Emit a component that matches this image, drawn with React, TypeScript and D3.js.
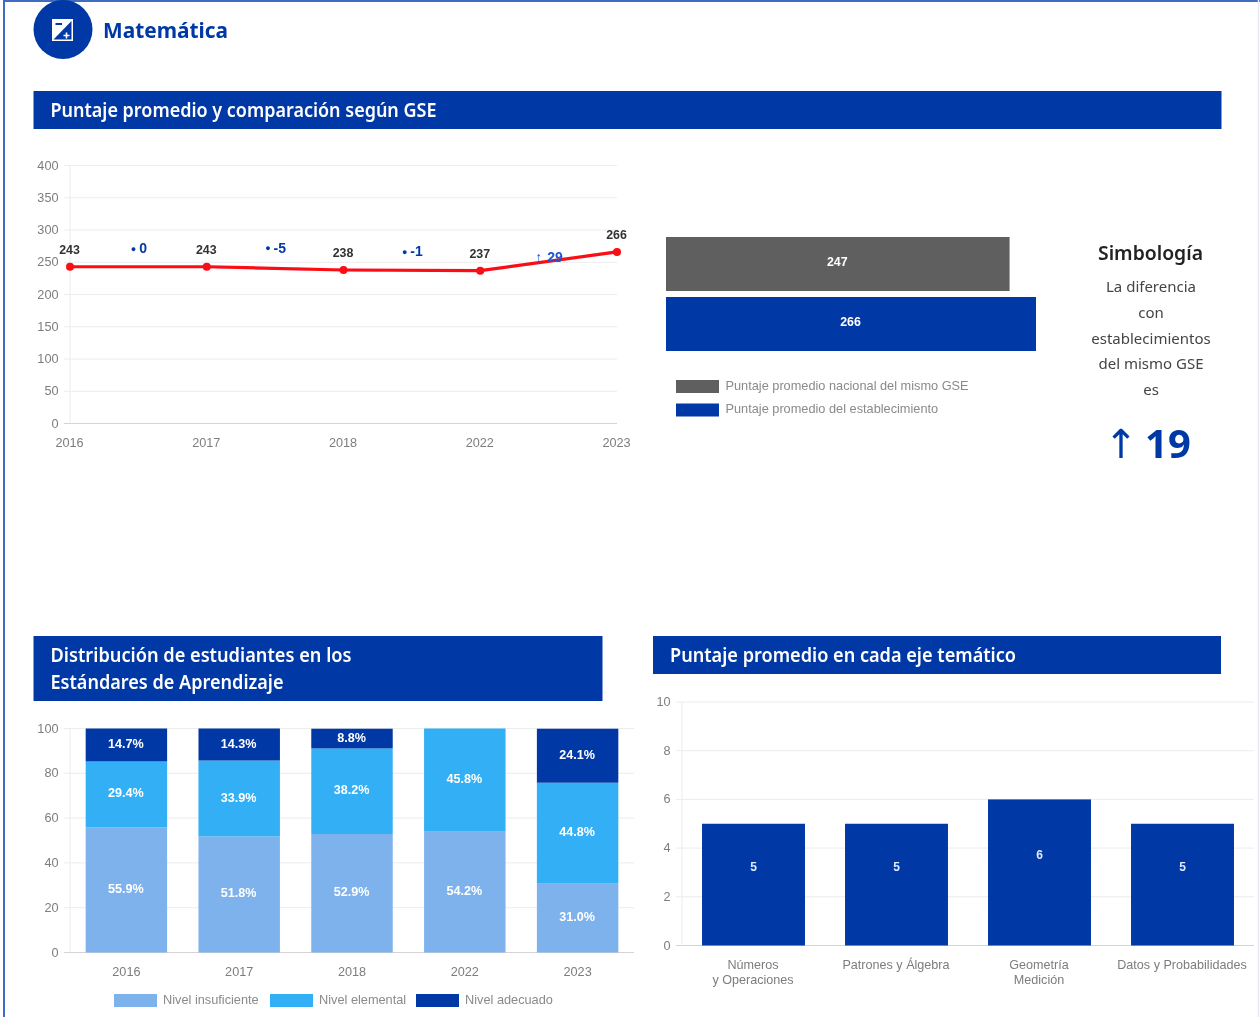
import React from "react";
import * as d3 from "d3";

const years = ["2016", "2017", "2018", "2022", "2023"];
const lineValues = [243, 243, 238, 237, 266];
const deltaMarks = ["●", "●", "●", "↑"];
const deltaValues = ["0", "-5", "-1", "29"];
const lineTicks = [0, 50, 100, 150, 200, 250, 300, 350, 400];

const compareLabels = ["Puntaje promedio nacional del mismo GSE", "Puntaje promedio del establecimiento"];
const compareValues = [247, 266];

const levels = ["Nivel insuficiente", "Nivel elemental", "Nivel adecuado"];
const insuficiente = [55.9, 51.8, 52.9, 54.2, 31.0];
const elemental = [29.4, 33.9, 38.2, 45.8, 44.8];
const adecuado = [14.7, 14.3, 8.8, 0, 24.1];
const stackTicks = [0, 20, 40, 60, 80, 100];

const ejes = [["Números", "y Operaciones"], ["Patrones y Álgebra"], ["Geometría", "Medición"], ["Datos y Probabilidades"]];
const ejeValues = [5, 5, 6, 5];
const ejeTicks = [0, 2, 4, 6, 8, 10];

const symbolLines = ["La diferencia", "con", "establecimientos", "del mismo GSE", "es"];

const BLUE = "#0339a5";
const SKY = "#31aff5";
const LIGHT = "#7eb2ec";
const GREY = "#5f5f5f";
const GRID = "#ececec";
const AXIS = "#7d7d7d";
const head = "'Noto Sans', sans-serif";
const body = "'Liberation Sans', Arial, sans-serif";
const FS = 12.7;

function Banner({ x, y, w, h, lines, widths }: any) {
  return (
    <g>
      <rect x={x} y={y} width={w} height={h} fill={BLUE} />
      {lines.map((t: string, i: number) => (
        <text key={t} x={x + 17} y={y + 26 + i * 27} fontFamily={head} fontWeight={600} fontSize={19} fill="#fff"
          textLength={widths[i]} lengthAdjust="spacingAndGlyphs">{t}</text>
      ))}
    </g>
  );
}

function YGrid({ scale, ticks, x0, x1 }: any) {
  return (
    <g>
      {ticks.map((t: number) => (
        <g key={t}>
          <line x1={x0 - 6} x2={x1} y1={scale(t)} y2={scale(t)} stroke={t === 0 ? "#d4d4d4" : GRID} />
          <text x={x0 - 11.5} y={scale(t) + 4} textAnchor="end" fontFamily={body} fontSize={FS} fill={AXIS}>{t}</text>
        </g>
      ))}
      <line x1={x0} x2={x0} y1={scale(ticks[ticks.length - 1])} y2={scale(0)} stroke={GRID} />
    </g>
  );
}

function LineChart() {
  const x = d3.scalePoint<string>().domain(years).range([70, 617]);
  const y = d3.scaleLinear().domain([0, 400]).range([423.5, 165.5]);
  const path = d3.line<number>().x((_, i) => x(years[i])!).y((d) => y(d))(lineValues)!;
  return (
    <g>
      <YGrid scale={y} ticks={lineTicks} x0={70} x1={617} />
      {years.map((c) => (
        <text key={c} x={x(c)! - 0.5} y={447} textAnchor="middle" fontFamily={body} fontSize={FS} fill={AXIS}>{c}</text>
      ))}
      <path d={path} fill="none" stroke="#fb0a12" strokeWidth={3.2} />
      {lineValues.map((v, i) => (
        <g key={i}>
          <circle cx={x(years[i])} cy={y(v)} r={4} fill="#fb0a12" />
          <text x={x(years[i])! - 0.5} y={y(v) - 13} textAnchor="middle" fontFamily={body} fontSize={12.4} fontWeight={700} fill="#333">{v}</text>
        </g>
      ))}
      {deltaValues.map((t, i) => {
        const xm = (x(years[i])! + x(years[i + 1])!) / 2;
        const ym = [253, 252.5, 256, 262][i];
        const col = i === 3 ? "#1a56d6" : BLUE;
        return (
          <text key={t} x={xm + 0.5} y={ym} textAnchor="middle" fontFamily={body} fontSize={14} fontWeight={700} fill={col}>
            <tspan fontSize={i === 3 ? 14 : 9} dy={i === 3 ? 0 : -1.5}>{deltaMarks[i]}</tspan>
            <tspan dy={i === 3 ? 0 : 1.5} dx={i === 3 ? 5 : 3}>{t}</tspan>
          </text>
        );
      })}
    </g>
  );
}

function CompareBars() {
  const x = d3.scaleLinear().domain([0, 266]).range([666, 1036]);
  const y = d3.scaleBand<number>().domain([0, 1]).range([234, 354]).paddingInner(0.1).paddingOuter(0.05);
  const colors = [GREY, BLUE];
  return (
    <g>
      {compareValues.map((v, i) => (
        <g key={i}>
          <rect x={x(0)} y={y(i)} width={x(v) - x(0)} height={y.bandwidth()} fill={colors[i]} />
          <text x={(x(0) + x(v)) / 2 - 0.5} y={y(i)! + y.bandwidth() / 2 + 2} textAnchor="middle" fontFamily={body} fontSize={12.4} fontWeight={700} fill="#fff">{v}</text>
        </g>
      ))}
      {compareLabels.map((t, i) => (
        <g key={t}>
          <rect x={676} y={380 + i * 23.5} width={43} height={13} fill={colors[i]} />
          <text x={725.5} y={389.5 + i * 23.2} fontFamily={body} fontSize={12.75} fill="#8a8a8a">{t}</text>
        </g>
      ))}
    </g>
  );
}

function Symbology() {
  return (
    <g textAnchor="middle" fontFamily={head}>
      <text x={1150.5} y={260} fontSize={20} fontWeight={600} fill="#222" textLength={105} lengthAdjust="spacingAndGlyphs">Simbología</text>
      {symbolLines.map((t, i) => (
        <text key={t} x={1151} y={292 + i * 25.8} fontSize={15} fill="#444">{t}</text>
      ))}
      <text x={1121} y={458} fontSize={40} fontFamily="'DejaVu Sans', sans-serif" fill={BLUE}>↑</text>
      <text x={1168} y={458} fontSize={40} fontWeight={700} fill={BLUE}>19</text>
    </g>
  );
}

function StackChart() {
  const x = d3.scaleBand<string>().domain(years).range([70, 634]).paddingInner(0.278).paddingOuter(0.139);
  const y = d3.scaleLinear().domain([0, 100]).range([952.5, 728.5]);
  const rows = years.map((c, i) => ({ c, a: insuficiente[i], b: elemental[i], d: adecuado[i] }));
  const series = d3.stack<any>().keys(["a", "b", "d"])(rows);
  const colors = [LIGHT, SKY, BLUE];
  const legendX = [114, 270, 416];
  return (
    <g>
      <YGrid scale={y} ticks={stackTicks} x0={70} x1={634} />
      {series.map((s, k) => (
        <g key={k}>
          {s.map((d: any) => {
            const val = d[1] - d[0];
            if (val <= 0) return null;
            return (
              <g key={d.data.c}>
                <rect x={x(d.data.c)} y={y(d[1])} width={x.bandwidth()} height={y(d[0]) - y(d[1])} fill={colors[k]} />
                <text x={x(d.data.c)! + x.bandwidth() / 2 - 0.5} y={(y(d[0]) + y(d[1])) / 2 + 3} textAnchor="middle" fontFamily={body} fontSize={12.6} fontWeight={700} fill="#fff">{val.toFixed(1)}%</text>
              </g>
            );
          })}
        </g>
      ))}
      {years.map((c) => (
        <text key={c} x={x(c)! + x.bandwidth() / 2} y={975.5} textAnchor="middle" fontFamily={body} fontSize={FS} fill={AXIS}>{c}</text>
      ))}
      {levels.map((t, i) => (
        <g key={t}>
          <rect x={legendX[i]} y={994} width={43} height={13} fill={colors[i]} />
          <text x={legendX[i] + 49} y={1003.5} fontFamily={body} fontSize={12.75} fill="#8a8a8a">{t}</text>
        </g>
      ))}
    </g>
  );
}

function EjeChart() {
  const cats = ejes.map((e) => e.join(" "));
  const x = d3.scaleBand<string>().domain(cats).range([682, 1254]).paddingInner(0.28).paddingOuter(0.14);
  const y = d3.scaleLinear().domain([0, 10]).range([945.5, 702]);
  return (
    <g>
      <YGrid scale={y} ticks={ejeTicks} x0={682} x1={1254} />
      {ejeValues.map((v, i) => (
        <g key={i}>
          <rect x={x(cats[i])} y={y(v)} width={x.bandwidth()} height={y(0) - y(v)} fill={BLUE} />
          <text x={x(cats[i])! + x.bandwidth() / 2} y={(y(1.45) + y(v)) / 2 + 4} textAnchor="middle" fontFamily={body} fontSize={12} fontWeight={700} fill="#dfe9ff">{v}</text>
          {ejes[i].map((l, j) => (
            <text key={l} x={x(cats[i])! + x.bandwidth() / 2 - 0.5} y={968.5 + j * 15} textAnchor="middle" fontFamily={body} fontSize={12.6} fill={AXIS}>{l}</text>
          ))}
        </g>
      ))}
    </g>
  );
}

export default function App() {
  return (
    <svg width={1260} height={1017} viewBox="0 0 1260 1017" style={{ position: "absolute", left: 0, top: 0, background: "#fff" }}>
      <defs>
        <filter id="soft" filterUnits="userSpaceOnUse" x="0" y="0" width="1260" height="1017"><feGaussianBlur stdDeviation="0.6" /></filter>
      </defs>
      <g filter="url(#soft)">
        <line x1={4} x2={4} y1={0} y2={1017} stroke="#3f6cc4" strokeWidth={2} />
        <line x1={4} x2={1260} y1={1} y2={1} stroke="#3f6cc4" strokeWidth={2} />
        <line x1={1258.5} x2={1258.5} y1={0} y2={1017} stroke="#e8e8f8" strokeWidth={1.5} />

        <circle cx={63} cy={29.5} r={29.5} fill={BLUE} />
        <rect x={52} y={19} width={21} height={22} fill="#fff" />
        <path d="M71.5 21 L71.5 39.5 L53.5 39.5 Z" fill={BLUE} />
        <path d="M55.5 24 h6.5" stroke={BLUE} strokeWidth={2} />
        <path d="M63.5 35.5 h6 M66.5 32.5 v6" stroke="#fff" strokeWidth={1.6} />
        <text x={103} y={38} fontFamily={head} fontWeight={700} fontSize={22} fill={BLUE} textLength={125} lengthAdjust="spacingAndGlyphs">Matemática</text>

        <Banner x={33.5} y={91} w={1188} h={38} lines={["Puntaje promedio y comparación según GSE"]} widths={[386]} />
        <Banner x={33.5} y={636} w={569} h={65} lines={["Distribución de estudiantes en los", "Estándares de Aprendizaje"]} widths={[301, 233]} />
        <Banner x={653} y={636} w={568} h={38} lines={["Puntaje promedio en cada eje temático"]} widths={[346]} />

        <LineChart />
        <CompareBars />
        <Symbology />
        <StackChart />
        <EjeChart />
      </g>
    </svg>
  );
}
